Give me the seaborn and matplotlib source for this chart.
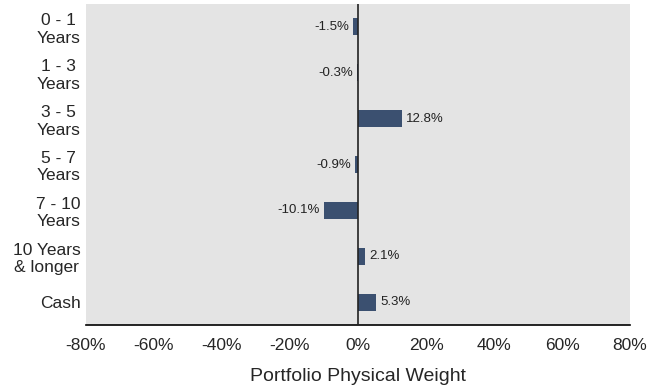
import numpy as np
import pandas as pd
import matplotlib
matplotlib.use('Agg')
import matplotlib.pyplot as plt
import seaborn as sns

# Chart data
categories = ['0 - 1\nYears', '1 - 3\nYears', '3 - 5\nYears', '5 - 7\nYears',
              '7 - 10\nYears', '10 Years\n& longer', 'Cash']
weights = [-1.5, -0.3, 12.8, -0.9, -10.1, 2.1, 5.3]
tick_values = [-80, -60, -40, -20, 0, 20, 40, 60, 80]

df = pd.DataFrame({'category': categories, 'weight': weights})

sns.set_style('white')
plt.rcParams['font.family'] = ['Liberation Sans', 'DejaVu Sans']

fig = plt.figure(figsize=(6.59, 3.88), dpi=100)
ax = fig.add_axes([86 / 659, 1 - 325 / 388, (630 - 86) / 659, (325 - 4) / 388])
ax.set_facecolor('#e4e4e4')

sns.barplot(data=df, x='weight', y='category', orient='h', color='#3b5070',
            width=0.37, saturation=1, linewidth=0, edgecolor='none', ax=ax)

ax.axvline(0, color='#222222', linewidth=1.2, zorder=3)

for i, v in enumerate(weights):
    label = f'{v:.1f}%'
    if v < 0:
        ax.text(v - 1.2, i, label, ha='right', va='center', fontsize=9.5, color='#222222')
    else:
        ax.text(v + 1.2, i, label, ha='left', va='center', fontsize=9.5, color='#222222')

ax.set_xlim(-80, 80)
ax.set_ylim(6.5, -0.5)
ax.set_xticks(tick_values)
ax.set_xticklabels([f'{t}%' for t in tick_values], fontsize=12.5)
ax.tick_params(axis='y', labelsize=12.5, length=0, pad=4)
ax.tick_params(axis='x', length=0, pad=9)
for lbl in ax.get_yticklabels():
    lbl.set_multialignment('center')

ax.set_ylabel('')
ax.set_xlabel('Portfolio Physical Weight', fontsize=14, labelpad=11)

for side in ['top', 'right', 'left']:
    ax.spines[side].set_visible(False)
ax.spines['bottom'].set_color('black')
ax.spines['bottom'].set_linewidth(1.2)

fig.savefig('out.png', dpi=100)
